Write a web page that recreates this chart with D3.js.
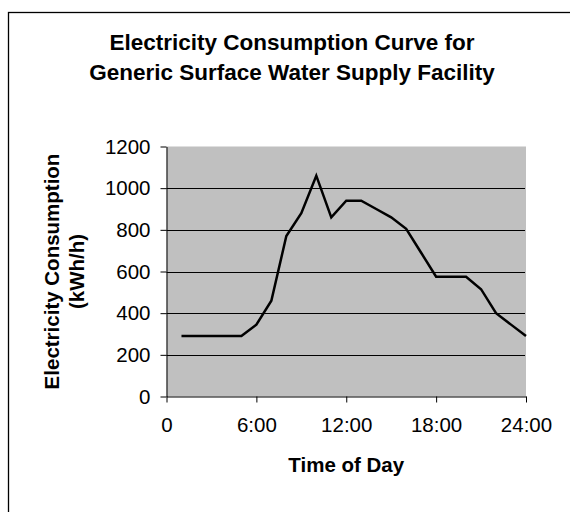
<!DOCTYPE html>
<html>
<head>
<meta charset="utf-8">
<script src="https://cdn.jsdelivr.net/npm/d3@7"></script>
<style>
  body { margin: 0; background: #fff; }
  svg { display: block; }
</style>
</head>
<body>
<script>
// hourly readings, hour 1..24
const hours = [1, 2, 3, 4, 5, 6, 7, 8, 9, 10, 11, 12, 13, 14, 15, 16, 17, 18, 19, 20, 21, 22, 23, 24];
const consumption = [290, 290, 290, 290, 290, 345, 460, 770, 880, 1060, 860, 940, 940, 900, 860, 805, 690, 575, 575, 575, 515, 400, 345, 290];
const xTicks = [0, 6, 12, 18, 24];
const xTickLabels = ["0", "6:00", "12:00", "18:00", "24:00"];
const yTicks = [0, 200, 400, 600, 800, 1000, 1200];
const titleLines = ["Electricity Consumption Curve for", "Generic Surface Water Supply Facility"];
const yTitleLines = ["Electricity Consumption", "(kWh/h)"];
const xTitle = "Time of Day";

const width = 570, height = 512;
const font = "'Liberation Sans', Arial, sans-serif";

const plot = {left: 166.5, right: 526, top: 146.5, bottom: 396.5};

const svg = d3.select("body").append("svg")
    .attr("width", width)
    .attr("height", height)
    .attr("font-family", font);

// chart frame (runs off right / bottom edge)
svg.append("rect")
    .attr("x", 8.5).attr("y", 12.5)
    .attr("width", 600).attr("height", 600)
    .attr("fill", "#fff")
    .attr("stroke", "#000")
    .attr("stroke-width", 1.3);

const x = d3.scaleLinear().domain([0, 24]).range([plot.left, plot.right]);
const y = d3.scaleLinear().domain([0, 1200]).range([plot.bottom, plot.top]);

// plot area
svg.append("rect")
    .attr("x", plot.left).attr("y", plot.top)
    .attr("width", plot.right - plot.left)
    .attr("height", plot.bottom - plot.top)
    .attr("fill", "#c0c0c0");

// gridlines
svg.append("g")
  .selectAll("line")
  .data(yTicks.filter(d => d > 0 && d < 1200))
  .join("line")
    .attr("x1", plot.left).attr("x2", plot.right - 1)
    .attr("y1", d => Math.round(y(d)) + 0.5)
    .attr("y2", d => Math.round(y(d)) + 0.5)
    .attr("stroke", "#000")
    .attr("stroke-width", 1);

// y axis
const yAxis = svg.append("g")
    .attr("transform", `translate(${plot.left},0)`)
    .call(d3.axisLeft(y).tickValues(yTicks).tickFormat(d3.format("d"))
      .tickSize(6).tickPadding(10).tickSizeOuter(0));
yAxis.select(".domain").attr("stroke", "#000");
yAxis.selectAll(".tick line").attr("stroke", "#000");
yAxis.selectAll("text")
    .attr("font-size", 20.5)
    .attr("font-family", font)
    .attr("fill", "#000");

// x axis
const xAxis = svg.append("g")
    .attr("transform", `translate(0,${plot.bottom})`)
    .call(d3.axisBottom(x).tickValues(xTicks).tickFormat((d, i) => xTickLabels[i])
      .tickSize(6).tickPadding(15).tickSizeOuter(0));
xAxis.select(".domain").attr("stroke", "#000");
xAxis.selectAll(".tick line").attr("stroke", "#000");
xAxis.selectAll("text")
    .attr("font-size", 20.5)
    .attr("font-family", font)
    .attr("fill", "#000");

// the curve
const line = d3.line()
    .x((d, i) => x(hours[i]))
    .y(d => y(d));

svg.append("path")
    .datum(consumption)
    .attr("fill", "none")
    .attr("stroke", "#000")
    .attr("stroke-width", 2.5)
    .attr("stroke-linejoin", "miter")
    .attr("d", line);

// title
svg.append("text")
    .attr("text-anchor", "middle")
    .attr("font-size", 22.5)
    .attr("font-weight", "bold")
  .selectAll("tspan")
  .data(titleLines)
  .join("tspan")
    .attr("x", 292)
    .attr("y", (d, i) => 50 + i * 30)
    .text(d => d);

// y title
svg.append("text")
    .attr("text-anchor", "middle")
    .attr("font-size", 20.5)
    .attr("font-weight", "bold")
    .attr("transform", `rotate(-90)`)
  .selectAll("tspan")
  .data(yTitleLines)
  .join("tspan")
    .attr("x", -(plot.top + plot.bottom) / 2)
    .attr("y", (d, i) => 59 + i * 24.5)
    .text(d => d);

// x title
svg.append("text")
    .attr("text-anchor", "middle")
    .attr("font-size", 20.5)
    .attr("font-weight", "bold")
    .attr("x", (plot.left + plot.right) / 2)
    .attr("y", 472)
    .text(xTitle);
</script>
</body>
</html>
